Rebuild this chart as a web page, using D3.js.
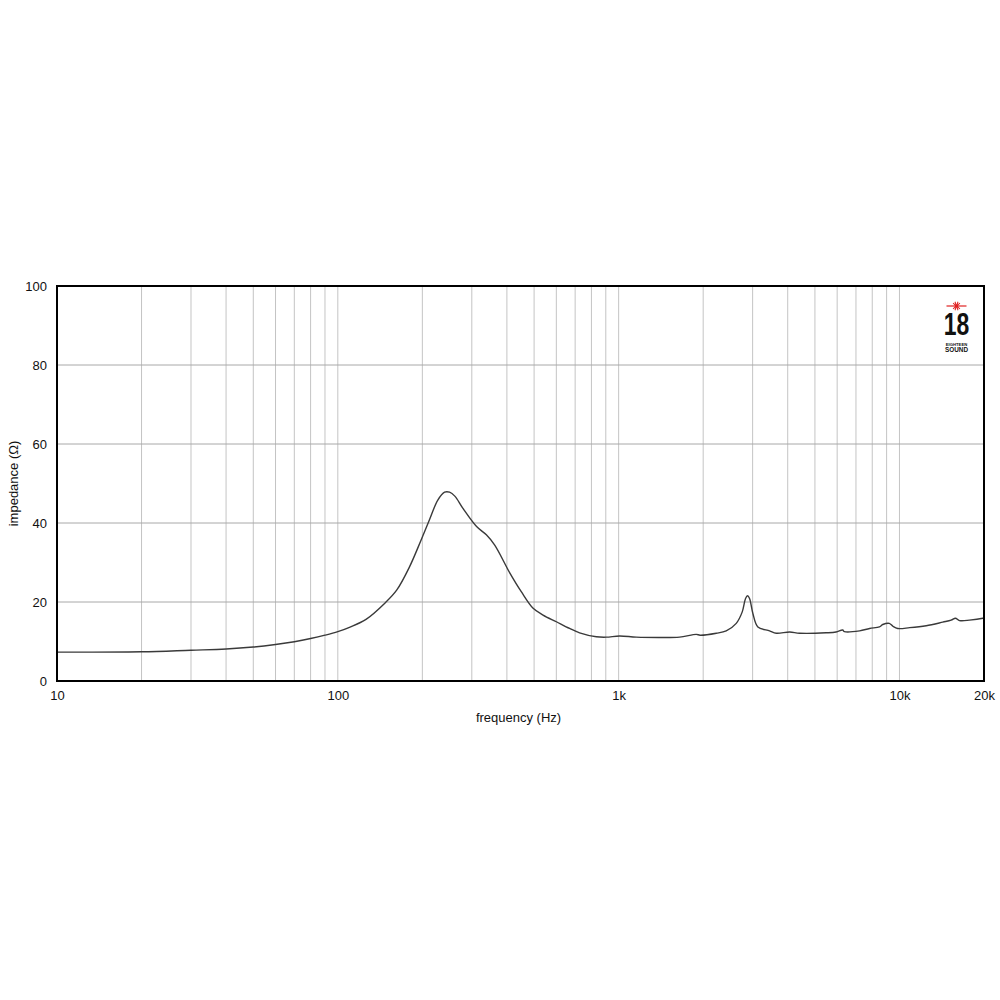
<!DOCTYPE html>
<html><head><meta charset="utf-8">
<script src="https://cdn.jsdelivr.net/npm/d3@7"></script>
<style>body{margin:0;background:#fff;}svg{display:block;font-family:"Liberation Sans",Arial,sans-serif;}</style>
</head><body>
<svg id="c" width="1000" height="1000"></svg>
<script>
const freqs = [10,20,30,40,50,60,70,80,90,100,110,126,147,162,180,198,212,227,240,250,261,279,312,338,362,410,450,496,538,600,669,726,833,904,1008,1155,1400,1648,1890,1950,2228,2416,2623,2755,2831,2877,2925,3006,3132,3447,3641,4067,4408,5483,5948,6277,6370,7211,7825,8483,8720,9200,9500,9860,10870,12450,14260,15280,15820,16360,17750,19800,20000];
const impedance = [7.3,7.4,7.8,8.1,8.6,9.25,9.95,10.75,11.6,12.5,13.6,15.6,19.7,23.0,28.9,35.7,40.8,45.8,47.8,47.8,46.8,43.7,39.1,37.0,34.4,27.3,22.6,18.4,16.7,15.0,13.3,12.2,11.2,11.1,11.4,11.1,11.0,11.1,11.8,11.6,12.1,12.7,14.6,17.5,20.9,21.6,20.9,17.1,13.7,12.7,12.1,12.4,12.1,12.2,12.4,12.9,12.5,12.7,13.3,13.7,14.3,14.6,13.8,13.3,13.5,14.0,14.9,15.4,15.9,15.3,15.4,15.9,16.0];
const yTicks = [0,20,40,60,80,100];
const xTickValues = [10,100,1000,10000,20000];
const xTickLabels = ["10","100","1k","10k","20k"];
const gridFreqs = [];
[10,100,1000].forEach(d=>{for(let k=1;k<10;k++)gridFreqs.push(d*k);});
gridFreqs.push(10000,20000);

const svg = d3.select("#c");
const L=57,R=984,T=286,B=681;
const x = d3.scaleLog().domain([10,20000]).range([L,R]);
const y = d3.scaleLinear().domain([0,100]).range([B,T]);

// vertical grid
svg.append("g").selectAll("line").data(gridFreqs.filter(f=>f>10&&f<20000)).join("line")
  .attr("x1",d=>x(d)).attr("x2",d=>x(d)).attr("y1",T).attr("y2",B)
  .attr("stroke","#c4c4c4").attr("stroke-width",1);
// horizontal grid
svg.append("g").selectAll("line").data(yTicks.filter(v=>v>0&&v<100)).join("line")
  .attr("x1",L).attr("x2",R).attr("y1",d=>y(d)).attr("y2",d=>y(d))
  .attr("stroke","#a8a8a8").attr("stroke-width",1);

// curve
const line = d3.line().x(d=>x(d[0])).y(d=>y(d[1])).curve(d3.curveCatmullRom.alpha(0.5));
svg.append("path").datum(freqs.map((f,i)=>[f,impedance[i]]))
  .attr("d",line).attr("fill","none").attr("stroke","#3a3a3a").attr("stroke-width",1.4);

// frame
svg.append("rect").attr("x",L).attr("y",T).attr("width",R-L).attr("height",B-T)
  .attr("fill","none").attr("stroke","#000").attr("stroke-width",2);

// y axis labels
const yAxis = d3.axisLeft(y).tickValues(yTicks).tickSize(0).tickPadding(10);
const gy = svg.append("g").attr("transform",`translate(${L},0)`).call(yAxis);
gy.select(".domain").remove();
gy.selectAll("text").attr("font-size",13).attr("fill","#111").attr("font-family","Liberation Sans, Arial, sans-serif");

// x axis labels
const xAxis = d3.axisBottom(x).tickValues(xTickValues).tickFormat((d,i)=>xTickLabels[i]).tickSize(0).tickPadding(10);
const gx = svg.append("g").attr("transform",`translate(0,${B})`).call(xAxis);
gx.select(".domain").remove();
gx.selectAll("text").attr("font-size",13).attr("fill","#111").attr("font-family","Liberation Sans, Arial, sans-serif");

svg.append("text").attr("x",(L+R)/2-2).attr("y",722).attr("text-anchor","middle")
  .attr("font-size",13).attr("fill","#111").text("frequency (Hz)");
svg.append("text").attr("transform",`translate(18,${(T+B)/2}) rotate(-90)`).attr("text-anchor","middle")
  .attr("font-size",13).attr("fill","#111").text("impedance (Ω)");

// logo
const lg = svg.append("g").attr("transform","translate(956.5,0)");
const star = lg.append("g").attr("transform","translate(0,306)");
star.append("line").attr("x1",-10).attr("x2",10).attr("stroke","#e02020").attr("stroke-width",1.2);
[40,70,110,140].forEach(a=>{
  star.append("line").attr("x1",-4.5).attr("x2",4.5).attr("transform",`rotate(${a})`)
    .attr("stroke","#e02020").attr("stroke-width",1);
});
star.append("circle").attr("r",1.8).attr("fill","#e02020");
lg.append("text").attr("transform","translate(0,335) scale(0.74,1)").attr("text-anchor","middle").attr("font-size",31)
  .attr("font-weight","bold").attr("fill","#111").text("18");
lg.append("text").attr("x",0).attr("y",345.5).attr("text-anchor","middle").attr("font-size",4.2)
  .attr("font-weight","bold").attr("fill","#111").text("EIGHTEEN");
lg.append("text").attr("transform","translate(0,352) scale(0.85,1)").attr("text-anchor","middle").attr("font-size",7.5)
  .attr("font-weight","bold").attr("fill","#111").text("SOUND");
</script>
</body></html>
